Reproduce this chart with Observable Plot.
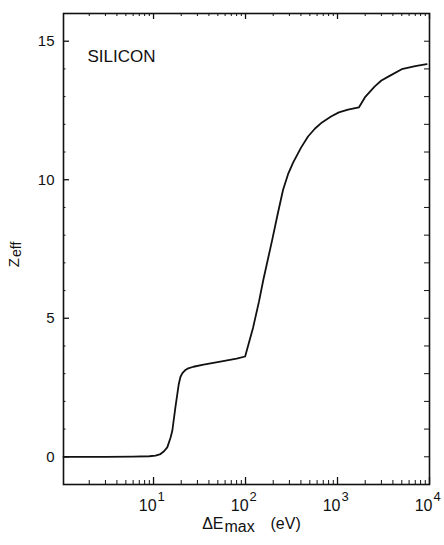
<!DOCTYPE html>
<html>
<head>
<meta charset="utf-8">
<script src="https://cdn.jsdelivr.net/npm/d3@7"></script>
<script src="https://cdn.jsdelivr.net/npm/@observablehq/plot@0.6"></script>
<style>
  body { margin: 0; background: #fff; }
  svg { display: block; }
</style>
</head>
<body>
<div id="chart"></div>
<script>
// Effective charge of silicon versus maximum energy transfer
const energy = [1.05, 3, 6, 9, 10.5, 11.9, 13, 14.1, 15.3, 16, 17.3, 18.8, 19.6, 20.6, 22, 23.4, 27.1, 35, 57, 80, 99,
                121, 140, 156, 195, 225, 256, 290, 329, 400, 478, 570, 678, 850, 1035, 1300, 1706,
                1982, 2543, 3000, 3604, 4989, 7000, 9310];
const zeff = [0, 0, 0.005, 0.02, 0.04, 0.1, 0.2, 0.34, 0.69, 0.94, 1.79, 2.62, 2.88, 3.02, 3.12, 3.18, 3.25, 3.33, 3.45, 3.54, 3.62,
              4.67, 5.6, 6.38, 7.83, 8.8, 9.64, 10.2, 10.62, 11.15, 11.56, 11.85, 12.07, 12.28, 12.43, 12.53, 12.61,
              12.97, 13.37, 13.58, 13.73, 13.99, 14.1, 14.17];

// Axis ticks and labels
const xMajor = [10, 100, 1000, 10000];
const xExponents = ["1", "2", "3", "4"];
const xMinor = [2, 3, 4, 5, 6, 7, 8, 9,
                20, 30, 40, 50, 60, 70, 80, 90,
                200, 300, 400, 500, 600, 700, 800, 900,
                2000, 3000, 4000, 5000, 6000, 7000, 8000, 9000];
const yMajor = [0, 5, 10, 15];
const yMinorLeft = [1, 2, 3, 4, 6, 7, 8, 9, 11, 12, 13, 14];
const yRight = [0, 1, 2, 3, 4, 5, 6, 7, 8, 9, 10, 11, 12, 13, 14, 15];
const panelLabel = "SILICON";

const points = energy.map((e, i) => ({energy: e, zeff: zeff[i]}));

const W = 444, H = 545;
const mL = 63, mR = 15, mT = 13, mB = 61;
const FW = W - mL - mR, FH = H - mT - mB;
const font = "'Liberation Sans', Arial, Helvetica, sans-serif";
const ink = "#111";

const chart = Plot.plot({
  width: W,
  height: H,
  marginLeft: mL,
  marginRight: mR,
  marginTop: mT,
  marginBottom: mB,
  style: {fontFamily: font, background: "#fff", color: ink},
  x: {type: "log", domain: [1.05, 10000], axis: null},
  y: {domain: [-1, 16], axis: null},
  marks: [
    // bottom ticks (inward)
    Plot.ruleX(xMajor, {x: d => d, insetTop: FH - 7, stroke: ink, strokeWidth: 1.3}),
    Plot.ruleX(xMinor, {x: d => d, insetTop: FH - 4, stroke: ink, strokeWidth: 1}),
    // top ticks (inward)
    Plot.ruleX(xMajor, {x: d => d, insetBottom: FH - 6, stroke: ink, strokeWidth: 1.3}),
    Plot.ruleX(xMinor, {x: d => d, insetBottom: FH - 3, stroke: ink, strokeWidth: 1}),
    // left ticks
    Plot.ruleY(yMajor, {y: d => d, insetRight: FW - 6, stroke: ink, strokeWidth: 1.3}),
    Plot.ruleY(yMinorLeft, {y: d => d, insetRight: FW - 2.5, stroke: ink, strokeWidth: 1}),
    // right ticks
    Plot.ruleY(yRight, {y: d => d, insetLeft: FW - 5, stroke: ink, strokeWidth: 1}),
    Plot.frame({stroke: ink, strokeWidth: 1.6}),
    // y tick labels
    Plot.text(yMajor, {y: d => d, frameAnchor: "left", dx: -9, textAnchor: "end",
      text: d => String(d), fontSize: 15, fill: ink}),
    // x tick labels: 10 with a raised exponent
    Plot.text(xMajor, {x: d => d, frameAnchor: "bottom", dx: 3, dy: 26, textAnchor: "end", lineAnchor: "bottom",
      text: () => "10", fontSize: 16, fill: ink}),
    Plot.text(xMajor, {x: d => d, frameAnchor: "bottom", dx: 4, dy: 16, textAnchor: "start", lineAnchor: "bottom",
      text: (d, i) => xExponents[i], fontSize: 13, fill: ink}),
    // x axis title: ΔE_max (eV)
    Plot.text(["ΔE"], {frameAnchor: "bottom", dx: -23, dy: 44, textAnchor: "end", lineAnchor: "bottom",
      text: d => d, fontSize: 16, fill: ink}),
    Plot.text(["max"], {frameAnchor: "bottom", dx: -22, dy: 47, textAnchor: "start", lineAnchor: "bottom",
      text: d => d, fontSize: 16, fill: ink}),
    Plot.text(["(eV)"], {frameAnchor: "bottom", dx: 24, dy: 44, textAnchor: "start", lineAnchor: "bottom",
      text: d => d, fontSize: 16, fill: ink}),
    // y axis title: Z_eff
    Plot.text(["Z"], {frameAnchor: "left", dx: -45, dy: 9, rotate: -90, textAnchor: "end", lineAnchor: "bottom",
      text: d => d, fontSize: 15, fill: ink}),
    Plot.text(["eff"], {frameAnchor: "left", dx: -43, dy: 8, rotate: -90, textAnchor: "start", lineAnchor: "bottom",
      text: d => d, fontSize: 14, fill: ink}),
    // panel label
    Plot.text([panelLabel], {frameAnchor: "top-left", dx: 24, dy: 48, textAnchor: "start", lineAnchor: "bottom",
      text: d => d, fontSize: 17, fill: ink}),
    // the curve
    Plot.line(points, {x: "energy", y: "zeff", stroke: ink, strokeWidth: 1.8, strokeLinejoin: "round"})
  ]
});

document.getElementById("chart").appendChild(chart);
</script>
</body>
</html>
